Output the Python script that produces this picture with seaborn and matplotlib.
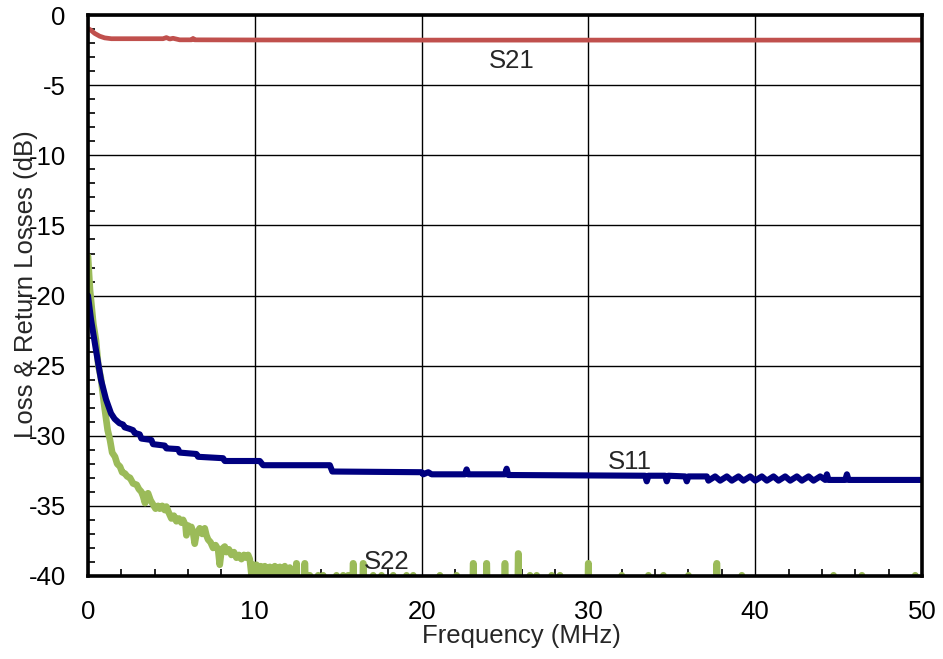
import numpy as np
import pandas as pd
import matplotlib
matplotlib.use("Agg")
import matplotlib.pyplot as plt
from matplotlib.ticker import MultipleLocator
import seaborn as sns

# S21 insertion loss (dB) vs frequency (MHz)
s21_freq = [0, 0.15, 0.4, 0.7, 1.0, 1.4, 2.0, 4.5, 4.7, 4.9, 5.1, 5.5, 6.2, 6.3, 6.4,
            10, 20, 30, 40, 50]
s21_db = [-0.95, -1.05, -1.3, -1.5, -1.62, -1.68, -1.68, -1.68, -1.6, -1.7, -1.65,
          -1.76, -1.76, -1.66, -1.76, -1.77, -1.78, -1.78, -1.78, -1.78]

# S11 return loss
s11_freq = [0, 0.18, 0.48, 0.78, 1.08, 1.38, 1.6, 1.88, 2.1, 2.2, 2.48, 2.7, 2.8, 3.1,
            3.2, 3.8, 3.9, 4.6, 4.7, 5.4, 5.5, 6.5, 6.6, 8.1, 8.2, 10.3, 10.5, 14.5,
            14.65, 20.0, 20.1, 20.4, 20.6, 21.0, 22.6, 22.7, 22.8, 25.0, 25.1, 25.2,
            33.4, 33.5, 33.6, 34.6, 34.7, 34.8, 35.8, 35.9, 36.0, 37.1, 37.2, 37.6,
            37.9, 38.3, 38.6, 39.0, 39.3, 39.7, 40.0, 40.4, 40.7, 41.1, 41.4, 41.8,
            42.1, 42.5, 42.8, 43.2, 43.5, 43.9, 44.2, 44.3, 44.4, 45.4, 45.5, 45.6, 50]
s11_db = [-20.0, -21.7, -23.9, -26.0, -27.4, -28.4, -28.8, -29.1, -29.2, -29.4, -29.5,
          -29.6, -29.8, -29.9, -30.2, -30.3, -30.6, -30.7, -30.9, -30.95, -31.2, -31.3,
          -31.5, -31.6, -31.8, -31.8, -32.1, -32.1, -32.55, -32.6, -32.75, -32.6,
          -32.75, -32.75, -32.75, -32.4, -32.75, -32.75, -32.35, -32.8, -32.85, -33.25,
          -32.85, -32.85, -33.25, -32.85, -32.9, -33.25, -32.9, -32.9, -33.2, -32.9,
          -33.2, -32.9, -33.2, -32.9, -33.2, -32.9, -33.2, -32.9, -33.2, -32.9, -33.2,
          -32.9, -33.2, -32.9, -33.2, -32.9, -33.2, -32.9, -33.15, -32.75, -33.15,
          -33.15, -32.75, -33.15, -33.15]

# S22 return loss, noisy decay down to the -40 dB floor
s22_freq = [0, 0.12, 0.32, 0.48, 0.62, 0.78, 0.95, 1.18, 1.32, 1.45, 1.62, 1.75, 1.92,
            2.05, 2.22, 2.35, 2.52, 2.7, 2.92, 3.05, 3.2, 3.3, 3.42, 3.5, 3.6, 3.75,
            3.9, 4.05, 4.2, 4.3, 4.45, 4.6, 4.7, 4.85, 5.0, 5.15, 5.3, 5.45, 5.6, 5.7,
            5.85, 5.9, 6.0, 6.1, 6.2, 6.3, 6.4, 6.5, 6.6, 6.7, 6.85, 7.0, 7.1, 7.2,
            7.35, 7.5, 7.65, 7.8, 7.9, 8.0, 8.1, 8.2, 8.3, 8.45, 8.6, 8.75, 8.9, 9.05,
            9.2, 9.35, 9.5, 9.6, 9.7, 9.8, 9.9, 10.0, 10.1, 10.2, 10.35, 10.5, 10.6,
            10.75, 10.9, 11.05, 11.2, 11.35, 11.5, 11.65, 11.8, 11.95, 12.1, 12.3, 12.4]
s22_db = [-17.2, -19.6, -22.0, -23.2, -25.0, -25.9, -27.6, -29.6, -30.3, -31.2, -31.5,
          -32.0, -32.2, -32.6, -32.7, -32.9, -33.0, -33.4, -33.5, -33.8, -34.0, -34.3,
          -34.8, -34.2, -34.1, -34.6, -34.9, -35.2, -35.0, -35.2, -35.0, -35.3, -35.05,
          -35.5, -35.9, -35.7, -36.1, -35.9, -36.2, -36.0, -36.4, -37.1, -36.4, -36.8,
          -36.5, -36.9, -37.7, -37.0, -36.8, -36.6, -37.0, -36.6, -37.1, -37.4, -37.6,
          -38.0, -37.8, -38.1, -39.2, -38.2, -38.0, -37.9, -38.3, -38.1, -38.5, -38.3,
          -38.7, -38.5, -38.8, -38.5, -38.7, -38.5, -38.8, -39.9, -39.2, -39.8, -39.2,
          -39.9, -39.3, -39.9, -39.3, -39.9, -39.35, -39.9, -39.3, -39.9, -39.35,
          -39.9, -39.3, -39.9, -39.4, -39.9, -40.6]

# small bumps and narrow spikes poking up from the clipped floor
s22_bump_freq = [13.3, 13.8, 14.1, 14.9, 15.3, 15.6, 17.1, 17.6, 18.3, 19.1, 19.5,
                 21.1, 22.1, 26.5, 26.9, 27.8, 28.3, 32.0, 33.6, 34.5, 36.0, 39.2,
                 44.7, 46.4, 49.6]
s22_spike_freq = [12.5, 13.0, 15.9, 16.5, 23.1, 23.9, 25.0, 25.8, 30.0, 37.7]
s22_spike_top = [-39.1, -39.1, -39.1, -39.1, -39.1, -39.1, -39.1, -38.4, -39.1, -39.1]

freq_ticks = [0, 10, 20, 30, 40, 50]
db_ticks = [-40, -35, -30, -25, -20, -15, -10, -5, 0]

FLOOR = -40.7


def s22_trace():
    pts = list(zip(s22_freq, s22_db))
    tail = [(50, FLOOR)]
    for f in s22_bump_freq:
        tail += [(f - 0.12, FLOOR), (f, -39.95), (f + 0.12, FLOOR)]
    for f, t in zip(s22_spike_freq, s22_spike_top):
        tail += [(f - 0.03, FLOOR), (f - 0.01, t), (f + 0.01, t), (f + 0.03, FLOOR)]
    tail.sort(key=lambda p: p[0])
    return pd.DataFrame(pts + tail, columns=["freq", "db"])


sns.set_style("white")
plt.rcParams["font.family"] = ["Liberation Sans", "DejaVu Sans"]

fig, ax = plt.subplots(figsize=(9.43, 6.59), dpi=100)
fig.subplots_adjust(left=0.0933, right=0.9777, bottom=0.126, top=0.977)

s22 = s22_trace()
s11 = pd.DataFrame({"freq": s11_freq, "db": s11_db})
s21 = pd.DataFrame({"freq": s21_freq, "db": s21_db})

sns.lineplot(data=s22, x="freq", y="db", ax=ax, color="#9BBB59", lw=4.8,
             sort=False, estimator=None, solid_capstyle="round", zorder=3)
sns.lineplot(data=s11, x="freq", y="db", ax=ax, color="#000080", lw=4.4,
             sort=False, estimator=None, solid_capstyle="round", zorder=4)
sns.lineplot(data=s21, x="freq", y="db", ax=ax, color="#C0504D", lw=3.4,
             sort=False, estimator=None, solid_capstyle="round", zorder=4)

ax.set_xlim(0, 50)
ax.set_ylim(-40, 0)
ax.set_xticks(freq_ticks)
ax.set_yticks(db_ticks)
ax.set_yticklabels([str(v) for v in db_ticks])
ax.xaxis.set_minor_locator(MultipleLocator(2))
ax.yaxis.set_minor_locator(MultipleLocator(1))
ax.tick_params(which="major", length=0, labelsize=18.5, colors="black")
ax.tick_params(axis="x", which="major", pad=17)
ax.tick_params(axis="y", which="major", pad=16)
ax.tick_params(which="minor", direction="in", length=5, width=1.2, color="black",
               bottom=True, left=True, top=False, right=False)
ax.grid(True, which="major", color="black", lw=1.0)
for sp in ax.spines.values():
    sp.set_visible(True)
    sp.set_color("black")
    sp.set_linewidth(2.6)
    sp.set_zorder(5)

ax.set_xlabel("Frequency (MHz)", fontsize=18.5)
ax.set_ylabel("Loss & Return Losses (dB)", fontsize=18.5)
ax.xaxis.set_label_coords(0.52, -0.085)
ax.yaxis.set_label_coords(-0.060, 0.52)

ax.text(25.4, -3.3, "S21", fontsize=18.5, ha="center", va="center")
ax.text(32.5, -31.9, "S11", fontsize=18.5, ha="center", va="center")
ax.text(17.9, -39.0, "S22", fontsize=18.5, ha="center", va="center", zorder=6)

fig.savefig("out.png", dpi=100)
